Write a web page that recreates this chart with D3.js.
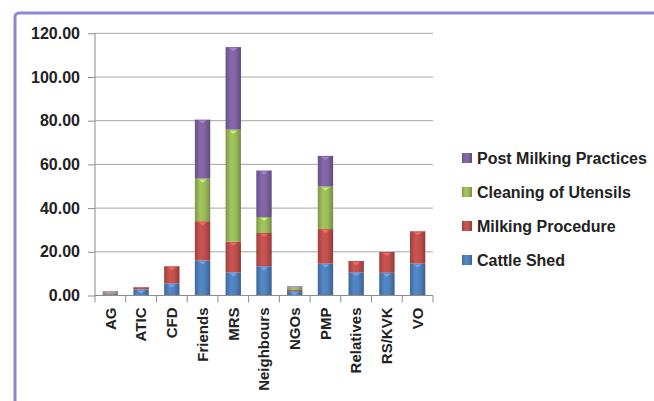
<!DOCTYPE html>
<html><head><meta charset="utf-8">
<script src="https://cdn.jsdelivr.net/npm/d3@7"></script>
<style>body{margin:0;background:#fff}svg{display:block}</style>
</head><body>
<script>
const categories = ["AG","ATIC","CFD","Friends","MRS","Neighbours","NGOs","PMP","Relatives","RS/KVK","VO"];
const cattleShed      = [0.6, 2.8, 5.5, 16.0, 10.6, 13.4, 2.0, 14.6, 10.6, 10.4, 14.6];
const milkingProc     = [0.4, 1.0, 7.9, 18.0, 14.0, 15.2, 0.5, 15.8, 5.2, 9.5, 14.8];
const cleaningUtens   = [0.4, 0.0, 0.0, 19.5, 51.3, 7.3, 1.2, 19.5, 0.0, 0.0, 0.0];
const postMilking     = [0.5, 0.0, 0.0, 27.0, 37.8, 21.3, 0.5, 14.0, 0.0, 0.0, 0.0];
const seriesNames = ["Cattle Shed","Milking Procedure","Cleaning of Utensils","Post Milking Practices"];
const seriesColors = ["#4f81bd","#c0504d","#9bbb59","#8064a2"];
const yTicks = [0,20,40,60,80,100,120];

const W=654,H=401;
const svg=d3.select("body").append("svg").attr("width",W).attr("height",H);
// frame
svg.append("rect").attr("x",15).attr("y",13).attr("width",720).attr("height",480)
  .attr("rx",4).attr("fill","none").attr("stroke","#8a8ad2").attr("stroke-width",3);

const defs=svg.append("defs");
seriesColors.forEach((c,i)=>{
  const g=defs.append("linearGradient").attr("id","g"+i).attr("x1","0").attr("x2","1").attr("y1","0").attr("y2","0");
  const base=d3.color(c);
  g.append("stop").attr("offset","0%").attr("stop-color",base.darker(0.6));
  g.append("stop").attr("offset","35%").attr("stop-color",base.brighter(0.15));
  g.append("stop").attr("offset","65%").attr("stop-color",base);
  g.append("stop").attr("offset","100%").attr("stop-color",base.darker(0.8));
});

const x0=95,x1=433,yTop=33.3,yBot=295.5;
const x=d3.scaleBand().domain(categories).range([x0,x1]).paddingInner(0.5).paddingOuter(0.25);
const y=d3.scaleLinear().domain([0,120]).range([yBot,yTop]);

// gridlines
svg.append("g").selectAll("line").data(yTicks.slice(1)).join("line")
  .attr("x1",x0).attr("x2",x1).attr("y1",d=>y(d)).attr("y2",d=>y(d))
  .attr("stroke","#a6a6a6").attr("stroke-width",1);

// stacked bars
const table=categories.map((c,i)=>({cat:c,s0:cattleShed[i],s1:milkingProc[i],s2:cleaningUtens[i],s3:postMilking[i]}));
const stack=d3.stack().keys(["s0","s1","s2","s3"])(table);
stack.forEach((layer,li)=>{
  const g=svg.append("g");
  g.selectAll("rect").data(layer.filter(d=>d[1]-d[0]>0)).join("rect")
    .attr("x",d=>x(d.data.cat)).attr("width",x.bandwidth())
    .attr("y",d=>y(d[1])).attr("height",d=>y(d[0])-y(d[1]))
    .attr("fill","url(#g"+li+")");
  g.selectAll("path").data(layer.filter(d=>y(d[0])-y(d[1])>4)).join("path")
    .attr("d",d=>{const cx=x(d.data.cat)+x.bandwidth()/2,ty=y(d[1]);return `M${cx-4},${ty+1}L${cx+4},${ty+1}L${cx},${ty+4}Z`;})
    .attr("fill",d3.color(seriesColors[li]).brighter(0.9)).attr("opacity",0.8);
});

// axes
const ya=svg.append("g").attr("transform",`translate(${x0},0)`)
  .call(d3.axisLeft(y).tickValues(yTicks).tickFormat(d3.format(".2f")).tickSize(7).tickPadding(8));
ya.select(".domain").attr("stroke","#8c8c8c").attr("d",`M0,${yBot}V${yTop}`);
ya.selectAll(".tick line").attr("stroke","#8c8c8c");
ya.selectAll("text").attr("font-family","Liberation Sans, Arial, sans-serif").attr("font-size",16)
  .attr("font-weight","bold").attr("fill","#222");

const xa=svg.append("g").attr("transform",`translate(0,${yBot})`).call(d3.axisBottom(x).tickSize(0).tickPadding(0));
xa.select(".domain").attr("stroke","#8c8c8c").attr("d",`M${x0},0H${x1}`);
xa.selectAll(".tick text").attr("font-family","Liberation Sans, Arial, sans-serif").attr("font-size",15)
  .attr("font-weight","bold").attr("fill","#222").attr("text-anchor","end")
  .attr("transform","rotate(-90)").attr("x",-12).attr("y",0).attr("dy","0.35em");
// category separator ticks
const step=x.step();
svg.append("g").selectAll("line").data(d3.range(categories.length+1)).join("line")
  .attr("x1",(d)=>x0+d*(x1-x0)/categories.length).attr("x2",(d)=>x0+d*(x1-x0)/categories.length)
  .attr("y1",yBot).attr("y2",yBot+7).attr("stroke","#8c8c8c");

// legend
const legendOrder=[3,2,1,0];
const lg=svg.append("g").attr("transform","translate(462,158)");
legendOrder.forEach((si,k)=>{
  const gy=k*34;
  lg.append("rect").attr("x",0).attr("y",gy-5).attr("width",10).attr("height",10).attr("fill","url(#g"+si+")");
  lg.append("text").attr("x",15).attr("y",gy).attr("dy","0.35em")
    .attr("font-family","Liberation Sans, Arial, sans-serif").attr("font-size",16).attr("font-weight","bold")
    .attr("fill","#222").text(seriesNames[si]);
});
</script>
</body></html>
